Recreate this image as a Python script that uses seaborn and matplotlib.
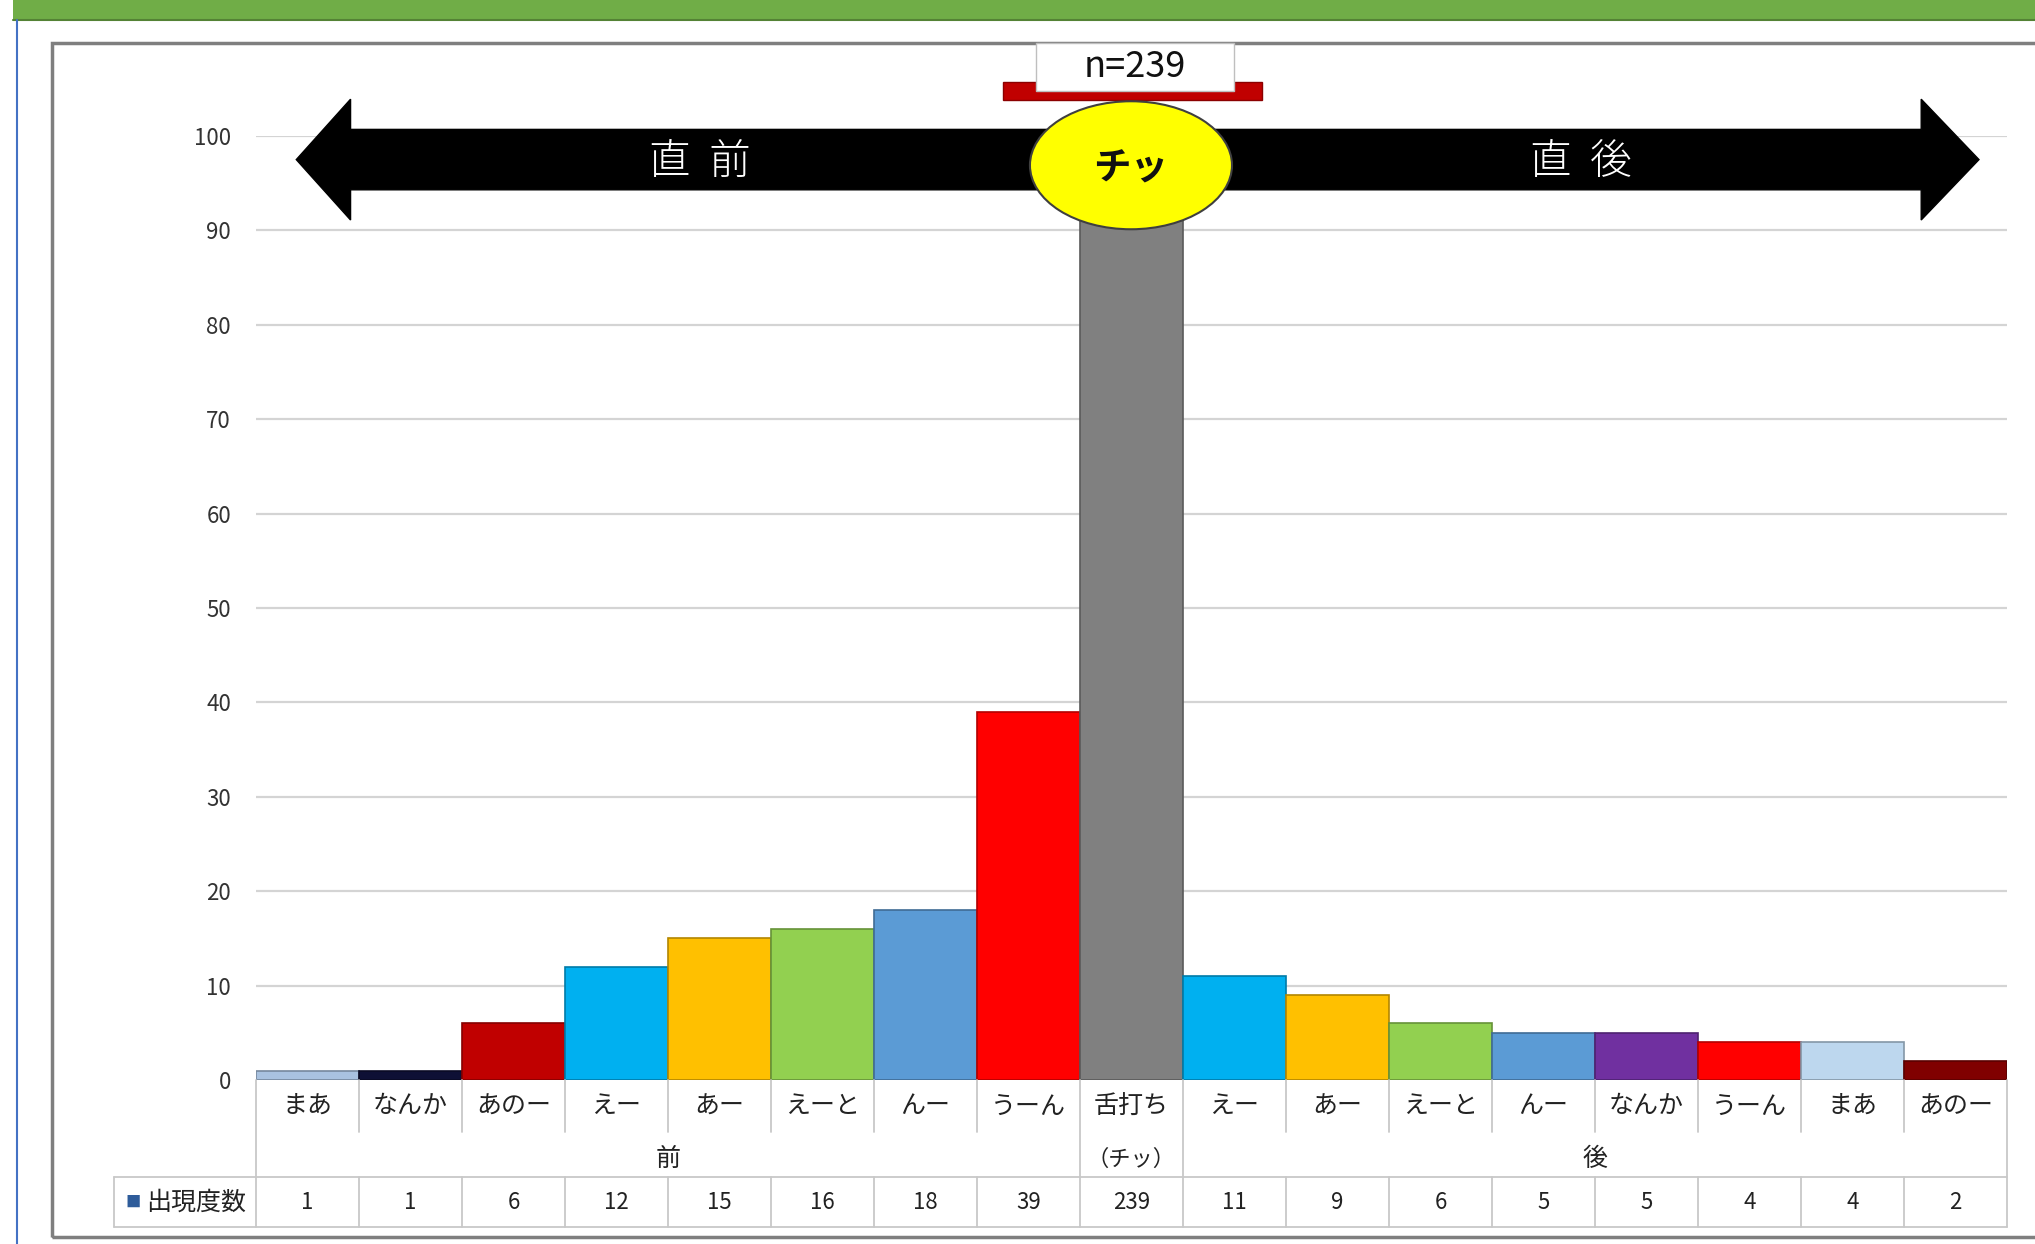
import pandas as pd
import seaborn as sns
import matplotlib.pyplot as plt
import matplotlib.colors as mcolors
from matplotlib.patches import Polygon, Ellipse, Rectangle
from matplotlib.lines import Line2D
from matplotlib.transforms import blended_transform_factory

# データ
labels = ['まあ', 'なんか', 'あのー', 'えー', 'あー', 'えーと', 'んー', 'うーん', '舌打ち',
          'えー', 'あー', 'えーと', 'んー', 'なんか', 'うーん', 'まあ', 'あのー']
counts = [1, 1, 6, 12, 15, 16, 18, 39, 239, 11, 9, 6, 5, 5, 4, 4, 2]
colors = ['#A9C2E0', '#0E1035', '#C00000', '#00B0F0', '#FFC000', '#92D050', '#5B9BD5', '#FF0000',
          '#808080', '#00B0F0', '#FFC000', '#92D050', '#5B9BD5', '#7030A0', '#FF0000', '#BDD7EE', '#800000']
yticks = list(range(0, 101, 10))
n_total = 239

df = pd.DataFrame({'key': [str(i) for i in range(len(labels))], 'label': labels, 'count': counts})

sns.set_theme(style='white')
plt.rcParams['font.family'] = ['Noto Sans CJK JP', 'DejaVu Sans']

W, H = 2035, 1244
fig = plt.figure(figsize=(W / 100, H / 100), dpi=100)
ax = fig.add_axes([256 / W, 164 / H, 1751 / W, 944 / H])

sns.barplot(data=df, x='key', y='count', hue='key', palette=dict(zip(df['key'], colors)),
            legend=False, width=1.0, saturation=1, ax=ax)
for bar in ax.patches:
    fc = mcolors.to_rgb(bar.get_facecolor())
    bar.set_edgecolor(tuple(c * 0.7 for c in fc))
    bar.set_linewidth(1.2)

ax.set_ylim(0, 100)
ax.set_xlim(-0.5, len(labels) - 0.5)
ax.set_yticks(yticks)
ax.yaxis.grid(True, color='#D4D4D4', lw=1.6)
ax.xaxis.grid(False)
ax.set_axisbelow(True)
for s in ax.spines.values():
    s.set_visible(False)
ax.tick_params(axis='y', length=0, pad=18, labelsize=16, labelcolor='#333333')
ax.set_xlabel('')
ax.set_ylabel('')

# カテゴリ名（表の1行目）
ax.set_xticks(range(len(labels)))
ax.set_xticklabels(labels, fontsize=18, color='#222222')
ax.tick_params(axis='x', length=0, pad=19)
for t in ax.get_xticklabels():
    t.set_va('center')

# 表
tr = blended_transform_factory(ax.transData, ax.transAxes)
line_kw = dict(color='#C8C8C8', lw=1.3, clip_on=False, transform=tr)
y_row1, y_row2, y_bot = -0.0551, -0.1028, -0.1557
n = len(labels)
mid = labels.index('舌打ち')
for i in range(n + 1):
    x = i - 0.5
    if i in (0, n, mid, mid + 1):
        ax.plot([x, x], [0, y_bot], **line_kw)
    else:
        ax.plot([x, x], [0, y_row1], **line_kw)
        ax.plot([x, x], [y_row2, y_bot], **line_kw)
ax.plot([-0.0811, 1.0], [y_row2, y_row2], color='#C8C8C8', lw=1.3, clip_on=False, transform=ax.transAxes)
ax.plot([-0.0811, 1.0], [y_bot, y_bot], color='#C8C8C8', lw=1.3, clip_on=False, transform=ax.transAxes)
ax.plot([-0.0811, -0.0811], [y_row2, y_bot], color='#C8C8C8', lw=1.3, clip_on=False, transform=ax.transAxes)

ax.text(mid, -0.0837, '（チッ）', transform=tr, ha='center', va='center', fontsize=16, color='#222222')
ax.text((mid - 1) / 2, -0.0837, '前', transform=tr, ha='center', va='center', fontsize=18, color='#222222')
ax.text((mid + n) / 2, -0.0837, '後', transform=tr, ha='center', va='center', fontsize=18, color='#222222')
for i, v in enumerate(counts):
    ax.text(i, -0.130, str(v), transform=tr, ha='center', va='center', fontsize=16, color='#222222')
ax.text(-0.0702, -0.130, '■', transform=ax.transAxes, ha='center', va='center', fontsize=11, color='#2E5C9A')
ax.text(-0.0343, -0.130, '出現度数', transform=ax.transAxes, ha='center', va='center', fontsize=18, color='#222222')

# 上部の矢印と注釈
xl_tip, xl_base, xr_base, xr_tip = 0.023, 0.054, 0.951, 0.984
yc, hs, hh = 0.975, 0.032, 0.064
arrow = Polygon([(xl_tip, yc), (xl_base, yc + hh), (xl_base, yc + hs), (xr_base, yc + hs),
                 (xr_base, yc + hh), (xr_tip, yc), (xr_base, yc - hh), (xr_base, yc - hs),
                 (xl_base, yc - hs), (xl_base, yc - hh)],
                closed=True, fc='black', ec='black', transform=ax.transAxes, clip_on=False, zorder=5)
ax.add_patch(arrow)
ax.text(0.2536, yc - 0.003, '直  前', transform=ax.transAxes, ha='center', va='center', fontsize=30,
        color='white', fontweight='light', zorder=6)
ax.text(0.7567, yc - 0.003, '直  後', transform=ax.transAxes, ha='center', va='center', fontsize=30,
        color='white', fontweight='light', zorder=6)

ax.add_patch(Rectangle((0.4266, 1.038), 0.1481, 0.019, fc='#C00000', ec='#8B0000', lw=1,
                       transform=ax.transAxes, clip_on=False, zorder=6))
ax.add_patch(Rectangle((0.4455, 1.0477), 0.113, 0.0508, fc='white', ec='#BFBFBF', lw=1,
                       transform=ax.transAxes, clip_on=False, zorder=7))
ax.text(0.502, 1.0731, f'n={n_total}', transform=ax.transAxes, ha='center', va='center',
        fontsize=26, color='#111111', zorder=8)

ax.add_patch(Ellipse((0.4997, 0.969), 0.1154, 0.1356, fc='#FFFF00', ec='#3F3F3F', lw=1.5,
                     transform=ax.transAxes, clip_on=False, zorder=8))
ax.text(0.4997, 0.966, 'チッ', transform=ax.transAxes, ha='center', va='center', fontsize=27,
        color='#111111', fontweight='bold', zorder=9)

# 外枠など
fig.add_artist(Rectangle((13 / W, 1 - 20 / H), 1, 20 / H, fc='#70AD47', ec='none',
                         transform=fig.transFigure, zorder=-1))
fig.add_artist(Line2D([13 / W, 1], [1 - 20 / H, 1 - 20 / H], color='#548235', lw=1.5,
                      transform=fig.transFigure))
fig.add_artist(Line2D([17 / W, 17 / W], [0, 1 - 20 / H], color='#4472C4', lw=1.5,
                      transform=fig.transFigure))
fig.add_artist(Rectangle((52 / W, 7 / H), 2, (1237 - 43) / H, fill=False, ec='#7F7F7F', lw=2.5,
                         transform=fig.transFigure, zorder=-1))

fig.savefig('out.png', dpi=100)
